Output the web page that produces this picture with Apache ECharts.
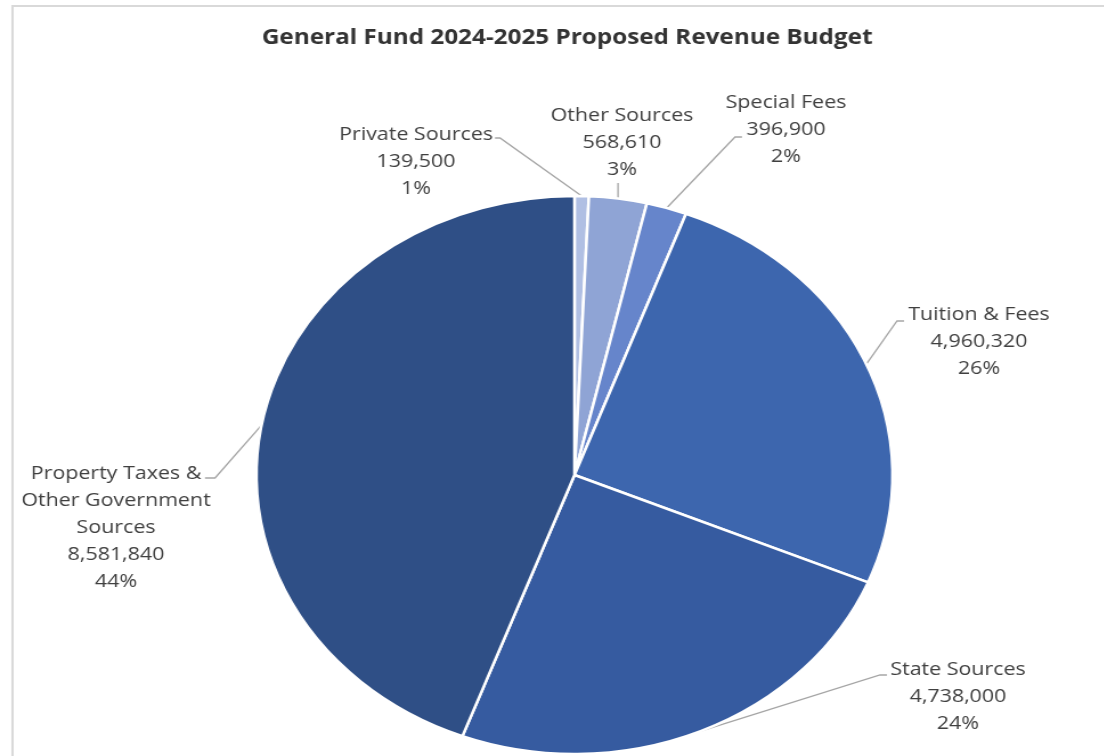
<!DOCTYPE html>
<html>
<head>
<meta charset="utf-8">
<script src="https://cdn.jsdelivr.net/npm/echarts@6/dist/echarts.min.js"></script>
<style>
html,body{margin:0;padding:0;background:#fff;overflow:hidden;}
#wrap{width:1104px;height:756px;position:relative;overflow:hidden;}
#chart{position:absolute;left:0;top:0;height:756px;transform-origin:0 0;}
</style>
</head>
<body>
<div id="wrap"><div id="chart"></div></div>
<script>
// ---- data ----
const categories = ['Private Sources', 'Other Sources', 'Special Fees', 'Tuition & Fees', 'State Sources', 'Property Taxes &\nOther Government\nSources'];
const values = [139500, 568610, 396900, 4960320, 4738000, 8581840];
const colors = ['#b0bfe3', '#8fa4d5', '#6685cb', '#3d66ae', '#365ba0', '#2f4f86'];

// ---- layout (display pixels) ----
const S = 1.14; // horizontal stretch of the reference
const W = 1104 / S;
const el = document.getElementById('chart');
el.style.width = W + 'px';
el.style.transform = 'scaleX(' + S + ')';

// label centre and leader-line elbow/end (display px)
const labelPos = [
  {c: [416, 162], elbow: [500, 138], end: [495, 138]},
  {c: [622, 143], elbow: [618, 196], end: [618, 183]},
  {c: [786, 130], elbow: [735, 137], end: [742, 137]},
  {c: [979, 342], elbow: [897, 321], end: [904, 321]},
  {c: [958, 697], elbow: [880, 675], end: [887, 675]},
  {c: [116, 528], elbow: [215, 478], end: [205, 478]}
];

const total = values.reduce((a, b) => a + b, 0);
const data = categories.map((n, i) => ({
  name: n, value: values[i], itemStyle: {color: colors[i]}
}));

const chart = echarts.init(el, null, {renderer: 'canvas'});
chart.setOption({
  animation: false,
  backgroundColor: '#fff',
  title: {
    text: 'General Fund 2024-2025 Proposed Revenue Budget',
    left: 561.5 / S, top: 22, textAlign: 'center',
    textStyle: {fontFamily: 'Open Sans', fontWeight: 'bold', fontSize: 21.3, color: '#333333'}
  },
  graphic: [{
    type: 'rect', silent: true,
    shape: {x: 12.5 / S, y: 6, width: W + 50, height: 800},
    style: {fill: 'none', stroke: '#d9d9d9', lineWidth: 2}
  }],
  series: [{
    type: 'pie',
    center: [574.5 / S, 475],
    radius: 279,
    startAngle: 90,
    clockwise: true,
    avoidLabelOverlap: false,
    itemStyle: {borderColor: '#ffffff', borderWidth: 2.5},
    label: {
      show: true,
      position: 'outside',
      fontFamily: 'Open Sans',
      fontSize: 18.8,
      lineHeight: 27,
      color: '#404040',
      align: 'center',
      formatter: function (p) {
        return p.name + '\n' + p.value.toLocaleString('en-US') + '\n' + Math.round(p.value / total * 100) + '%';
      }
    },
    labelLine: {show: true, length: 20, length2: 10, lineStyle: {color: '#a6a6a6', width: 1.3}},
    labelLayout: function (params) {
      const lp = labelPos[params.dataIndex];
      const pts = params.labelLinePoints;
      const p0 = pts ? pts[0] : [0, 0];
      return {
        x: lp.c[0] / S,
        y: lp.c[1],
        align: 'center',
        verticalAlign: 'middle',
        labelLinePoints: [p0, [lp.elbow[0] / S, lp.elbow[1]], [lp.end[0] / S, lp.end[1]]]
      };
    },
    data: data
  }]
});
</script>
</body>
</html>
